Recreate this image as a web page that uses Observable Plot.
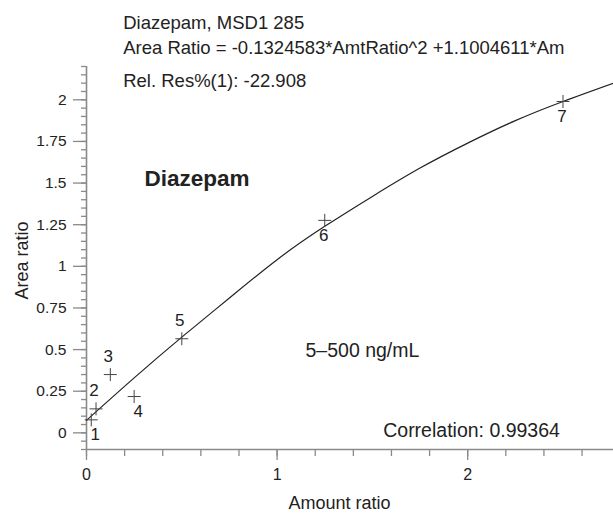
<!DOCTYPE html>
<html>
<head>
<meta charset="utf-8">
<script src="https://cdn.jsdelivr.net/npm/d3@7"></script>
<script src="https://cdn.jsdelivr.net/npm/@observablehq/plot@0.6"></script>
<style>
  html, body { margin: 0; padding: 0; background: #fff; }
</style>
</head>
<body>
<div id="chart"></div>
<script>
// ---- data ----
const pointIds    = ["1", "2", "3", "4", "5", "6", "7"];
const amountRatio = [0.025, 0.05, 0.125, 0.25, 0.5, 1.25, 2.5];
const areaRatio   = [0.078, 0.144, 0.35, 0.218, 0.565, 1.276, 1.99];

// fitted calibration curve
const curveAmount = [0, 0.25, 0.5, 0.75, 1.0, 1.25, 1.5, 1.75, 2.0, 2.25, 2.5, 2.765];
const curveArea   = [0.075, 0.33, 0.575, 0.81, 1.04, 1.24, 1.42, 1.59, 1.74, 1.875, 1.99, 2.10];

// tick values
const yMajorTicks = [0, 0.25, 0.5, 0.75, 1, 1.25, 1.5, 1.75, 2];
const yMinorTicks = [-0.1, -0.05, 0, 0.05, 0.1, 0.15, 0.2, 0.25, 0.3, 0.35, 0.4, 0.45, 0.5, 0.55, 0.6, 0.65, 0.7, 0.75, 0.8, 0.85, 0.9, 0.95, 1, 1.05, 1.1, 1.15, 1.2, 1.25, 1.3, 1.35, 1.4, 1.45, 1.5, 1.55, 1.6, 1.65, 1.7, 1.75, 1.8, 1.85, 1.9, 1.95, 2, 2.05, 2.1, 2.15, 2.2];
const xMajorTicks = [0, 1, 2];
const xMinorTicks = [0, 0.2, 0.4, 0.6, 0.8, 1, 1.2, 1.4, 1.6, 1.8, 2, 2.2, 2.4, 2.6];

// texts
const headerLines = [
  "Diazepam, MSD1 285",
  "Area Ratio = -0.1324583*AmtRatio^2 +1.1004611*Am",
  "Rel. Res%(1): -22.908"
];
const compoundName = "Diazepam";
const rangeText = "5\u2013500 ng/mL";
const correlationText = "Correlation: 0.99364";
const xLabel = "Amount ratio";
const yLabel = "Area ratio";

// label groups (which side of the marker the number sits)
const labelsAboveIds = ["2", "3", "5"];
const labelsBelowRightIds = ["1", "4"];
const labelsBelowIds = ["6", "7"];

// ---- build ----
const points = pointIds.map((id, i) => ({id, x: amountRatio[i], y: areaRatio[i]}));
const curve = curveAmount.map((x, i) => ({x, y: curveArea[i]}));

const plusSymbol = {
  draw(context, size) {
    const r = Math.sqrt(size / Math.PI);
    context.moveTo(-r, 0); context.lineTo(r, 0);
    context.moveTo(0, -r); context.lineTo(0, r);
  }
};

const axisGrey = "#8a8a8a";
const ink = "#222";
const font = "'Liberation Sans', Arial, sans-serif";
const plain = d => String(d);
const note = {frameAnchor: "top-left", textAnchor: "start", lineAnchor: "middle", fill: ink};

const chart = Plot.plot({
  width: 613,
  height: 518,
  marginLeft: 86,
  marginRight: 0,
  marginTop: 66,
  marginBottom: 69,
  style: {fontFamily: font, background: "#fff", color: ink, overflow: "visible"},
  x: {domain: [0, 2.765], label: null},
  y: {domain: [-0.1, 2.2], label: null},
  marks: [
    Plot.axisY(yMinorTicks, {tickSize: 5, text: null, stroke: axisGrey, strokeWidth: 1.3, label: null}),
    Plot.axisY(yMajorTicks, {tickSize: 13, tickPadding: 7, tickFormat: plain, fontSize: 15.5, stroke: axisGrey, strokeWidth: 1.3, fill: ink, label: null}),
    Plot.axisX(xMinorTicks, {tickSize: 7, text: null, stroke: axisGrey, strokeWidth: 1.3, label: null}),
    Plot.axisX(xMajorTicks, {tickSize: 11, tickPadding: 8, tickFormat: plain, fontSize: 16, stroke: axisGrey, strokeWidth: 1.3, fill: ink, label: null}),
    Plot.ruleX([0], {stroke: axisGrey, strokeWidth: 1.6}),
    Plot.ruleY([-0.1], {stroke: axisGrey, strokeWidth: 1.6}),

    Plot.line(curve, {x: "x", y: "y", curve: "natural", stroke: "#222", strokeWidth: 1.2}),
    Plot.dot(points, {x: "x", y: "y", symbol: plusSymbol, r: 6.5, fill: "none", stroke: "#444", strokeWidth: 1}),

    Plot.text(points.filter(d => labelsAboveIds.includes(d.id)), {x: "x", y: "y", text: "id", dx: -2, dy: -18, fontSize: 17, fill: ink}),
    Plot.text(points.filter(d => labelsBelowRightIds.includes(d.id)), {x: "x", y: "y", text: "id", dx: 4, dy: 15, fontSize: 17, fill: ink}),
    Plot.text(points.filter(d => labelsBelowIds.includes(d.id)), {x: "x", y: "y", text: "id", dx: -1, dy: 15, fontSize: 17, fill: ink}),

    Plot.text([headerLines[0]], {...note, dx: 36.7, dy: -43.7, fontSize: 18.5}),
    Plot.text([headerLines[1]], {...note, dx: 36.7, dy: -18.7, fontSize: 18.5}),
    Plot.text([headerLines[2]], {...note, dx: 36.7, dy: 15, fontSize: 18.5}),
    Plot.text([compoundName], {...note, dx: 58, dy: 112, fontSize: 22.5, fontWeight: "bold"}),
    Plot.text([rangeText], {...note, dx: 219, dy: 284.7, fontSize: 19.5}),
    Plot.text([correlationText], {...note, dx: 296.7, dy: 364, fontSize: 19.5}),

    Plot.text([xLabel], {frameAnchor: "bottom", textAnchor: "middle", lineAnchor: "middle", dx: -10.5, dy: 54, fontSize: 18, fill: ink}),
    Plot.text([yLabel], {frameAnchor: "left", textAnchor: "middle", lineAnchor: "middle", rotate: -90, dx: -64.3, dy: 2.5, fontSize: 18, fill: ink})
  ]
});

document.getElementById("chart").appendChild(chart);
</script>
</body>
</html>
